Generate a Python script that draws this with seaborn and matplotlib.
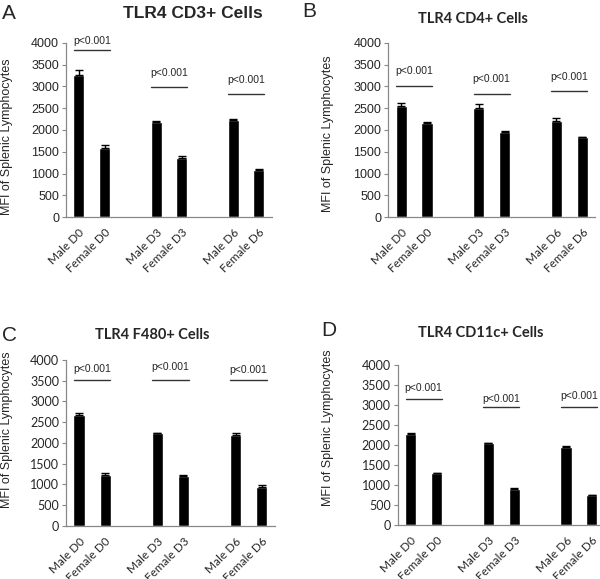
import numpy as np
import pandas as pd
import matplotlib
matplotlib.use("Agg")
import matplotlib.pyplot as plt
import seaborn as sns

sns.set_style("white")
plt.rcParams['font.family'] = ['Liberation Sans', 'DejaVu Sans']

order = ["Male D0", "Female D0", " ", "Male D3", "Female D3", "  ", "Male D6", "Female D6"]
groups = ["Male D0", "Female D0", "Male D3", "Female D3", "Male D6", "Female D6"]

titles = ["TLR4 CD3+ Cells", "TLR4 CD4+ Cells", "TLR4 F480+ Cells", "TLR4 CD11c+ Cells"]
letters = ["A", "B", "C", "D"]

cd3_vals = [3270, 1580, 2180, 1360, 2220, 1080]
cd3_err = [100, 80, 15, 35, 40, 15]
cd4_vals = [2550, 2150, 2510, 1950, 2200, 1850]
cd4_err = [70, 30, 80, 25, 80, 0]
f480_vals = [2680, 1220, 2240, 1200, 2200, 950]
f480_err = [40, 55, 10, 30, 40, 35]
cd11c_vals = [2270, 1290, 2040, 900, 1950, 760]
cd11c_err = [20, 20, 20, 20, 15, 0]

# p-value annotations: (male category, line y, text y)
cd3_p = [("Male D0", 3830, 3930), ("Male D3", 2980, 3200), ("Male D6", 2820, 3040)]
cd4_p = [("Male D0", 3000, 3230), ("Male D3", 2830, 3060), ("Male D6", 2890, 3100)]
f480_p = [("Male D0", 3520, 3660), ("Male D3", 3520, 3700), ("Male D6", 3510, 3640)]
cd11c_p = [("Male D0", 3140, 3300), ("Male D3", 2950, 3020), ("Male D6", 2950, 3100)]
p_text = "p<0.001"

panels = [
    (cd3_vals, cd3_err, cd3_p, [0.110, 0.625, 0.343, 0.301], (-0.257, 0.46)),
    (cd4_vals, cd4_err, cd4_p, [0.647, 0.625, 0.345, 0.301], (-0.26, 0.48)),
    (f480_vals, f480_err, f480_p, [0.110, 0.0915, 0.348, 0.287], (-0.254, 0.58)),
    (cd11c_vals, cd11c_err, cd11c_p, [0.663, 0.093, 0.345, 0.277], (-0.31, 0.61)),
]

fig = plt.figure(figsize=(6.0, 5.79), dpi=100)
title_fonts = [['Liberation Sans', 'DejaVu Sans'], ['Lato', 'DejaVu Sans'],
               ['Lato', 'DejaVu Sans'], ['Lato', 'DejaVu Sans']]
ytick_fonts = [['Liberation Sans'], ['Liberation Sans'], ['Lato'], ['Lato']]

for k, (vals, errs, pinfo, rect, lab_xy) in enumerate(panels):
    ax = fig.add_axes(rect)
    df = pd.DataFrame({"group": groups, "mfi": vals})
    sns.barplot(data=df, x="group", y="mfi", order=order, color="black",
                width=0.43, ax=ax, errorbar=None, saturation=1)
    xs = [order.index(g) for g in groups]
    ax.errorbar(xs, vals, yerr=[np.zeros(len(errs)), errs], fmt="none",
                ecolor="black", elinewidth=1.0, capsize=3, capthick=1.0)
    ax.set_ylim(0, 4000)
    ax.set_yticks(np.arange(0, 4001, 500))
    ax.set_xlim(-0.5, len(order) - 0.5)
    ax.set_xlabel("")
    ax.set_ylabel("MFI of Splenic Lymphocytes", fontsize=9,
                  family=['Liberation Sans'])
    ax.yaxis.set_label_coords(*lab_xy)
    for lbl in ax.get_yticklabels():
        lbl.set_fontsize(9)
        lbl.set_family(ytick_fonts[k])
    # x: major ticks at boundaries (no labels), minor at centers with labels
    ax.set_xticks(np.arange(-0.5, len(order), 1.0))
    ax.set_xticklabels([])
    ax.set_xticks(np.arange(len(order)), minor=True)
    ax.set_xticklabels([o.strip() for o in order], minor=True, rotation=45,
                       ha="right", rotation_mode="anchor", fontsize=8.5,
                       family=['Lato'])
    ax.tick_params(axis="x", which="minor", length=0, pad=7)
    ax.tick_params(axis="x", which="major", length=3, width=0.8, color="#888888",
                   direction="out")
    ax.tick_params(axis="y", length=3, width=0.8, color="#888888", direction="out",
                   pad=2, left=True)
    for s in ["top", "right"]:
        ax.spines[s].set_visible(False)
    for s in ["left", "bottom"]:
        ax.spines[s].set_color("#888888")
        ax.spines[s].set_linewidth(0.9)
    for g, ly, ty in pinfo:
        i = order.index(g)
        ax.plot([i - 0.2, i + 1.2], [ly, ly], color="#333333", lw=1.0)
        ax.text(i + 0.5, ty, p_text, ha="center", va="bottom", fontsize=7.5,
                family=['Liberation Sans'])

# titles & letters
fig.text(0.205, 0.977, titles[0], ha="left", va="center", fontsize=12.5,
         fontweight="bold", family=title_fonts[0])
fig.text(0.697, 0.967, titles[1], ha="left", va="center", fontsize=10.5,
         fontweight="bold", family=title_fonts[1])
fig.text(0.158, 0.421, titles[2], ha="left", va="center", fontsize=10.5,
         fontweight="bold", family=title_fonts[2])
fig.text(0.697, 0.425, titles[3], ha="left", va="center", fontsize=10.5,
         fontweight="bold", family=title_fonts[3])
fig.text(0.003, 0.977, "A", ha="left", va="center", fontsize=15)
fig.text(0.503, 0.98, "B", ha="left", va="center", fontsize=15)
fig.text(0.003, 0.42, "C", ha="left", va="center", fontsize=15)
fig.text(0.535, 0.43, "D", ha="left", va="center", fontsize=15)

fig.savefig("out.png", dpi=100)
